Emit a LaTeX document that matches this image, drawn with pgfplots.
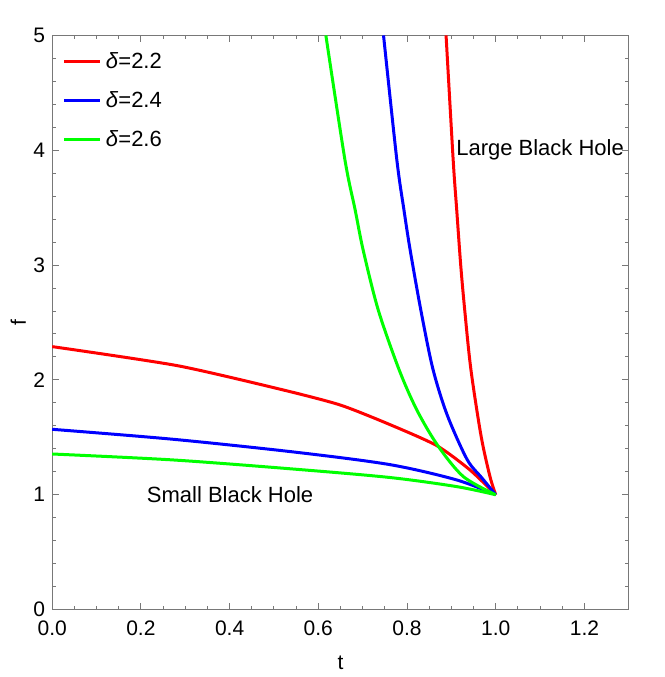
\documentclass[border=0pt]{standalone}
\usepackage{fontspec}
\setmainfont{Liberation Sans}
\usepackage{pgfplots}
\pgfplotsset{compat=1.18}

\definecolor{mred}{RGB}{255,0,0}
\definecolor{mblue}{RGB}{0,0,255}
\definecolor{mgreen}{RGB}{0,255,0}
\definecolor{framegray}{RGB}{120,120,120}

\begin{document}
\begin{tikzpicture}
\begin{axis}[
    scale only axis,
    width=288.3pt, height=287.1pt,
    xmin=0, xmax=1.3, ymin=0, ymax=5,
    axis line style={framegray, line width=0.6pt},
    tick style={framegray, line width=0.5pt},
    tick align=inside,
    major tick length=3.5pt,
    minor tick length=2pt,
    xtick={0,0.2,...,1.2},
    ytick={0,1,...,5},
    minor x tick num=3,
    minor y tick num=4,
    xticklabel style={/pgf/number format/fixed, /pgf/number format/fixed zerofill,
        /pgf/number format/precision=1, yshift=-2.3pt},
    /pgf/number format/assume math mode=true,
    ticklabel style={font=\fontsize{10.5}{12}\selectfont},
    xlabel={t}, ylabel={f},
    label style={font=\fontsize{10.5}{12}\selectfont},
    xlabel style={at={(axis description cs:0.5,-0.093)}, anchor=center},
    ylabel style={at={(axis description cs:-0.059,0.5)}, anchor=center},
    legend style={at={(axis description cs:0.018,0.978)}, anchor=north west,
        draw=none, fill=none, font=\fontsize{11}{13}\selectfont,
        row sep=6pt, inner sep=0pt},
    legend cell align=left,
    legend image code/.code={\draw[#1] (0pt,0pt) -- (18pt,0pt);},
    every axis plot/.append style={line width=1.5pt},
]
% small black hole branches
\addplot[mred, smooth, tension=0.4] coordinates {
    (0,2.29) (0.281,2.125) (0.514,1.919) (0.649,1.782) (0.762,1.610)
    (0.867,1.428) (0.942,1.216) (1,1.0)
};
\addplot[mblue, smooth] coordinates {
    (0,1.570) (0.273,1.483) (0.55,1.37) (0.762,1.262) (0.912,1.129) (1,1.0)
};
\addplot[mgreen, smooth] coordinates {
    (0,1.355) (0.273,1.303) (0.55,1.222) (0.762,1.150) (0.912,1.071) (1,1.0)
};
\legend{\textit{δ}=2.2, \textit{δ}=2.4, \textit{δ}=2.6}
% large black hole branches
\addplot[mred, smooth, forget plot] coordinates {
    (0.888,5) (0.904,3.916) (0.912,3.481) (0.921,3.0) (0.930,2.61) (0.944,2.09)
    (0.967,1.51) (0.987,1.158) (1,1.0)
};
\addplot[mblue, smooth, forget plot] coordinates {
    (0.747,5) (0.777,3.916) (0.793,3.481) (0.807,3.132) (0.831,2.610) (0.858,2.10)
    (0.890,1.70) (0.935,1.31) (0.968,1.15) (1,1.0)
};
\addplot[mgreen, smooth, forget plot] coordinates {
    (0.617,5) (0.660,3.916) (0.683,3.481) (0.701,3.132) (0.735,2.610) (0.782,2.09)
    (0.822,1.739) (0.869,1.430) (0.927,1.158) (1,1.0)
};
\node[font=\fontsize{11}{13}\selectfont] at (axis cs:0.401,0.998) {Small Black Hole};
\node[font=\fontsize{11}{13}\selectfont] at (axis cs:1.1,4.0) {Large Black Hole};
\coordinate (sw) at (rel axis cs:0,0);
\coordinate (ne) at (rel axis cs:1,1);
\end{axis}
\pgfresetboundingbox
\path ([xshift=-26.1pt,yshift=-33.7pt]sw) rectangle ([xshift=17.6pt,yshift=17.7pt]ne);
\end{tikzpicture}
\end{document}
